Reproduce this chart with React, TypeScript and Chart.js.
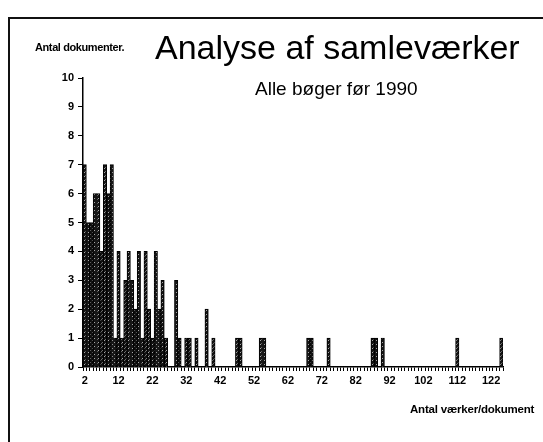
import React, { useEffect, useRef } from "react";
import { Chart, registerables } from "chart.js";

Chart.register(...registerables);

// Antal værker pr. dokument (categories 2..125)
const categories = [
  2, 3, 4, 5, 6, 7, 8, 9, 10, 11,
  12, 13, 14, 15, 16, 17, 18, 19, 20, 21,
  22, 23, 24, 25, 26, 27, 28, 29, 30, 31,
  32, 33, 34, 35, 36, 37, 38, 39, 40, 41,
  42, 43, 44, 45, 46, 47, 48, 49, 50, 51,
  52, 53, 54, 55, 56, 57, 58, 59, 60, 61,
  62, 63, 64, 65, 66, 67, 68, 69, 70, 71,
  72, 73, 74, 75, 76, 77, 78, 79, 80, 81,
  82, 83, 84, 85, 86, 87, 88, 89, 90, 91,
  92, 93, 94, 95, 96, 97, 98, 99, 100, 101,
  102, 103, 104, 105, 106, 107, 108, 109, 110, 111,
  112, 113, 114, 115, 116, 117, 118, 119, 120, 121,
  122, 123, 124, 125,
];

// Antal dokumenter
const documentCounts = [
  7, 5, 5, 6, 6, 4, 7, 6, 7, 1,
  4, 1, 3, 4, 3, 2, 4, 1, 4, 2,
  1, 4, 2, 3, 1, 0, 0, 3, 1, 0,
  1, 1, 0, 1, 0, 0, 2, 0, 1, 0,
  0, 0, 0, 0, 0, 1, 1, 0, 0, 0,
  0, 0, 1, 1, 0, 0, 0, 0, 0, 0,
  0, 0, 0, 0, 0, 0, 1, 1, 0, 0,
  0, 0, 1, 0, 0, 0, 0, 0, 0, 0,
  0, 0, 0, 0, 0, 1, 1, 0, 1, 0,
  0, 0, 0, 0, 0, 0, 0, 0, 0, 0,
  0, 0, 0, 0, 0, 0, 0, 0, 0, 0,
  1, 0, 0, 0, 0, 0, 0, 0, 0, 0,
  0, 0, 0, 1,
];

const xTickLabels = ["2", "12", "22", "32", "42", "52", "62", "72", "82", "92", "102", "112", "122"];
const yMin = 0;
const yMax = 10;

const FONT = "'Liberation Sans', Arial, sans-serif";

function makePattern(): CanvasPattern | string {
  const pc = document.createElement("canvas");
  pc.width = 4;
  pc.height = 4;
  const c = pc.getContext("2d");
  if (!c) return "#333";
  c.fillStyle = "#141414";
  c.fillRect(0, 0, 4, 4);
  c.fillStyle = "#a8a8a8";
  c.fillRect(0, 0, 1, 1);
  c.fillRect(2, 2, 1, 1);
  c.fillStyle = "#6a6a6a";
  c.fillRect(1, 3, 1, 1);
  const main = document.createElement("canvas").getContext("2d");
  const p = main ? main.createPattern(pc, "repeat") : null;
  return p || "#333";
}

export default function App() {
  const ref = useRef<HTMLCanvasElement>(null);

  useEffect(() => {
    document.body.style.margin = "0";
    const canvas = ref.current;
    if (!canvas) return;
    const chart = new Chart(canvas, {
      type: "bar",
      data: {
        labels: categories.map(String),
        datasets: [
          {
            data: documentCounts,
            backgroundColor: makePattern() as any,
            borderColor: "#000",
            borderWidth: 1,
            barPercentage: 1,
            categoryPercentage: 1,
          },
        ],
      },
      options: {
        animation: false,
        responsive: false,
        layout: { padding: { left: 0, right: 40, top: 78, bottom: 45 } },
        plugins: { legend: { display: false }, tooltip: { enabled: false }, title: { display: false } },
        scales: {
          x: {
            afterFit: (s: any) => {
              s.height = 30;
            },
            grid: { drawOnChartArea: false, tickLength: 4, color: "#000", offset: true, lineWidth: 1 },
            border: { color: "#000", width: 1.5 },
            ticks: {
              autoSkip: false,
              maxRotation: 0,
              minRotation: 0,
              color: "#000",
              padding: 3,
              font: { family: FONT, size: 11, weight: "bold" },
              callback: (_v: any, i: number) => {
                const l = String(categories[i]);
                return xTickLabels.includes(l) ? l : "";
              },
            },
          },
          y: {
            min: yMin,
            max: yMax,
            afterFit: (s: any) => {
              s.width = 83;
            },
            grid: { drawOnChartArea: false, tickLength: 5, color: "#000" },
            border: { color: "#000", width: 1.5 },
            ticks: {
              stepSize: 1,
              color: "#000",
              padding: 4,
              font: { family: FONT, size: 11, weight: "bold" },
            },
          },
        },
      },
    });
    return () => chart.destroy();
  }, []);

  const text = (extra: React.CSSProperties): React.CSSProperties => ({
    position: "absolute",
    whiteSpace: "nowrap",
    fontFamily: FONT,
    color: "#000",
    lineHeight: 1,
    ...extra,
  });

  return (
    <div style={{ position: "relative", width: 543, height: 442, overflow: "hidden", background: "#fff" }}>
      <div
        style={{
          position: "absolute",
          left: 8,
          top: 17,
          width: 700,
          height: 700,
          borderTop: "2px solid #111",
          borderLeft: "2px solid #111",
        }}
      />
      <canvas ref={ref} width={543} height={442} style={{ position: "absolute", left: 0, top: 0 }} />
      <div style={text({ left: 35, top: 42, fontSize: 11, fontWeight: "bold", letterSpacing: -0.4 })}>Antal dokumenter.</div>
      <div style={text({ left: 155, top: 30, fontSize: 34 })}>Analyse af samleværker</div>
      <div style={text({ left: 255, top: 79, fontSize: 19 })}>Alle bøger før 1990</div>
      <div style={text({ left: 410, top: 404, fontSize: 11.5, fontWeight: "bold", letterSpacing: -0.2 })}>
        Antal værker/dokument
      </div>
    </div>
  );
}
